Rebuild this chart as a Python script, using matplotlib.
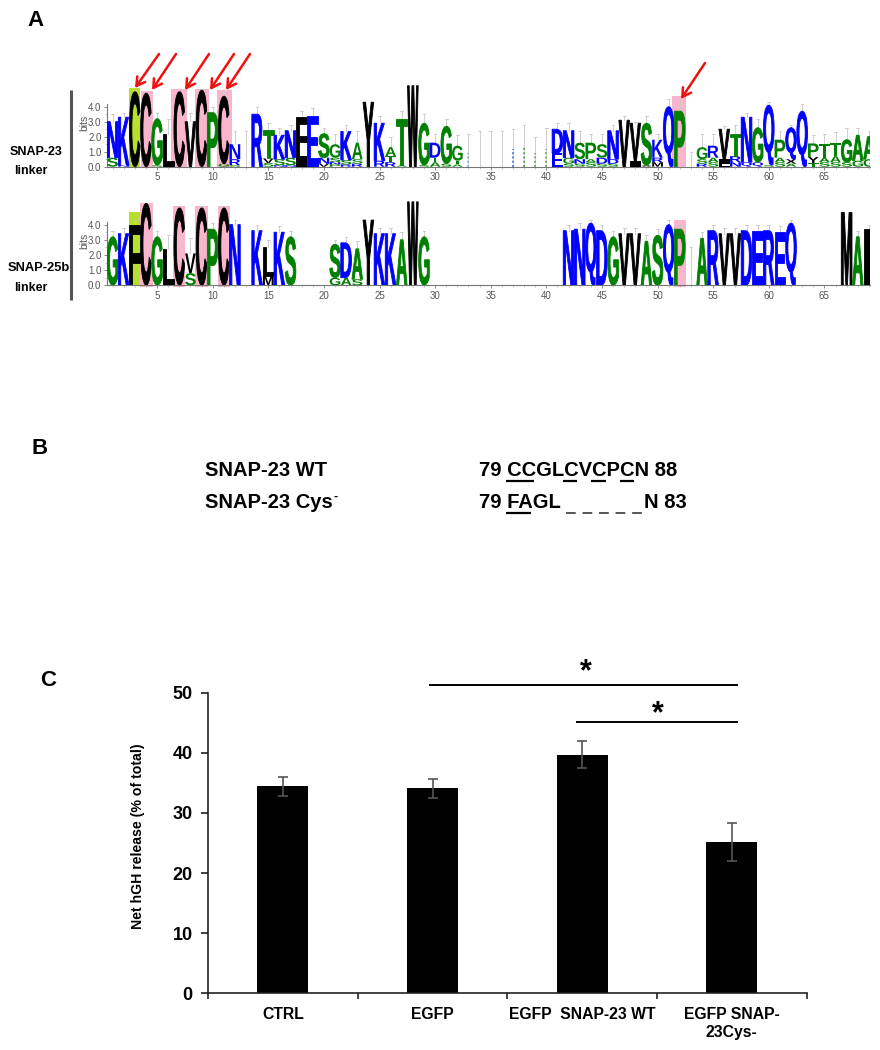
import matplotlib
matplotlib.use("Agg")
import matplotlib.pyplot as plt
from matplotlib.font_manager import FontProperties
from matplotlib.patches import PathPatch, Rectangle
from matplotlib.path import Path
from matplotlib.textpath import TextPath
from matplotlib.transforms import Affine2D

plt.rcParams["font.family"] = ["Liberation Sans", "DejaVu Sans"]

W, H = 880, 1050

# panel A, logo stacks listed bottom to top, one entry per position
logo1_letters = ["SN", "NK", "C", "C", "SG", "L", "C", "V", "C", "P",
                 "GC", "SRN", "", "R", "SVT", "NSK", "NSN", "IF", "E", "VNS",
                 "PNSG", "RSK", "RSA", "Y", "RK", "RTA", "AT", "W", "SG", "ATD",
                 "SG", "ATG", "", "", "", "", "", "", "", "",
                 "ED", "SGN", "SNS", "SAP", "SDS", "SDN", "V", "IV", "XS", "MRK",
                 "Q", "P", "", "RSG", "SAR", "LIV", "NRT", "QN", "QG", "SQ",
                 "SAP", "AXQ", "Q", "TYP", "SAT", "SAT", "SG", "GA", "GA"]
logo1_heights = [[.6, 2.4], [.1, 3.2], [5.0], [4.9], [.1, 3.1], [2.2], [5.0], [3.0], [5.1], [3.6],
                 [.2, 4.5], [.1, .4, 1.0], [], [3.5], [.25, .3, 1.9], [.1, .4, 1.6], [.1, .5, 1.8], [.7, 2.6], [3.4], [.2, .4, 1.6],
                 [.15, .15, .3, .9], [.15, .3, 1.9], [.2, .3, 1.1], [4.3], [.4, 2.5], [.3, .4, .6], [.1, 3.1], [5.4], [.1, 2.8], [.3, .3, 1.0],
                 [.2, 2.5], [.15, .25, 1.0], [], [], [], [], [], [], [], [],
                 [.9, 1.6], [.2, .4, 1.8], [.2, .3, 1.1], [.3, .2, 1.1], [.2, .4, .9], [.2, .3, 1.9], [3.1], [.4, 2.5], [.1, 2.8], [.3, .3, 1.2],
                 [4.0], [3.7], [], [.2, .3, .8], [.3, .3, .8], [.2, .3, 2.0], [.3, .4, 1.5], [.3, 3.0], [.3, 2.3], [.1, 4.0],
                 [.3, .3, 1.2], [.2, .3, 2.1], [3.7], [.25, .4, .9], [.3, .3, .9], [.3, .4, .9], [.3, 1.5], [.4, 1.7], [.5, 1.5]]
logo1_err = [3.5, 3.6, 5.1, 5.0, 3.6, 3.2, 5.1, 3.6, 5.2, 4.0,
             4.9, 2.4, 2.4, 4.0, 2.9, 2.6, 2.8, 3.7, 3.9, 2.6,
             2.2, 2.8, 2.4, 4.3, 3.4, 2.0, 3.7, 5.4, 3.5, 2.2,
             3.2, 2.1, 2.2, 2.4, 2.4, 2.4, 2.5, 2.8, 2.0, 2.6,
             2.9, 2.9, 2.4, 2.2, 2.2, 2.8, 3.4, 3.0, 3.4, 2.2,
             4.5, 4.4, 1.0, 2.2, 2.2, 2.7, 2.8, 3.6, 3.2, 4.3,
             2.4, 2.8, 4.2, 2.1, 2.2, 2.3, 2.6, 2.6, 2.4]
logo1_faint_pos = [33, 37, 38, 39, 40]
logo1_faint_top = [0.9, 1.2, 1.3, 0.9, 1.2]
logo1_faint_col = ["#79a8d8", "#3060e0", "#3f9a3f", "#5aa05a", "#5aa05a"]
logo1_green = [3]
logo1_green_top = [5.25]
logo1_pink = [4.09, 6.98, 9.05, 11.07, 51.95]
logo1_pink_top = [5.05, 5.15, 5.2, 5.1, 4.7]
logo1_pink_w = [1.1, 1.45, 1.25, 1.35, 1.3]

logo2_letters = ["G", "K", "F", "C", "G", "L", "C", "SV", "C", "P",
                 "C", "N", "", "K", "ML", "K", "S", "", "", "",
                 "GS", "AD", "SA", "Y", "K", "K", "A", "W", "G", "",
                 "", "", "", "", "", "", "", "", "", "",
                 "", "N", "N", "Q", "D", "G", "V", "V", "A", "S",
                 "Q", "P", "", "A", "R", "V", "V", "D", "E", "R",
                 "E", "Q", "", "", "", "", "M", "A", "I"]
logo2_heights = [[3.2], [3.4], [4.0], [5.4], [3.2], [2.4], [5.1], [.8, 1.3], [5.1], [3.7],
                 [5.1], [4.0], [], [3.6], [.6, 1.9], [3.5], [3.2], [], [], [],
                 [.5, 2.2], [.5, 2.3], [.4, 2.0], [4.3], [3.4], [3.4], [3.0], [5.5], [3.2], [],
                 [], [], [], [], [], [], [], [], [], [],
                 [], [3.6], [3.7], [4.1], [3.6], [3.2], [3.4], [3.4], [2.9], [3.3],
                 [4.0], [3.7], [], [3.1], [3.6], [3.4], [3.4], [3.6], [3.6], [3.6],
                 [3.5], [4.1], [], [], [], [], [4.8], [3.2], [3.7]]
logo2_err = [3.6, 3.8, 4.3, 5.4, 3.6, 3.3, 5.2, 3.1, 5.2, 4.1,
             5.2, 4.3, 0, 4.0, 3.0, 3.9, 3.6, 0, 0, 0,
             3.0, 3.2, 2.9, 4.3, 3.8, 3.8, 3.5, 5.5, 3.6, 0,
             0, 0, 0, 0, 0, 0, 0, 0, 0, 0,
             0, 4.0, 4.1, 4.3, 4.0, 3.6, 3.8, 3.8, 3.3, 3.7,
             4.3, 4.0, 2.5, 3.5, 4.0, 3.8, 3.8, 4.0, 4.0, 4.0,
             3.9, 4.3, 0, 0, 0, 0, 4.8, 3.6, 4.0]
logo2_green = [3]
logo2_green_top = [4.8]
logo2_pink = [4.05, 7.0, 9.0, 11.05, 52.0]
logo2_pink_top = [5.45, 5.25, 5.2, 5.2, 4.3]
logo2_pink_w = [1.1, 1.1, 1.1, 1.1, 1.05]

# panel C
categories = ["CTRL", "EGFP", "EGFP  SNAP-23 WT", "EGFP SNAP-\n23Cys-"]
release = [34.4, 34.1, 39.7, 25.2]
release_err = [1.6, 1.6, 2.2, 3.2]
yticks = [0, 10, 20, 30, 40, 50]

LETTER_COLORS = {"N": "#0000ff", "K": "#0000ff", "R": "#0000ff", "D": "#0000ff",
                 "E": "#0000ff", "Q": "#0000ff",
                 "S": "#008000", "G": "#008000", "T": "#008000", "A": "#008000", "P": "#008000"}
FP = FontProperties(family="Liberation Sans", weight="bold")


def axes_px(fig, left, top, right, bottom):
    return fig.add_axes([left / W, 1 - bottom / H, (right - left) / W, (bottom - top) / H])


def draw_letter(ax, ch, pos, y0, h):
    tp = TextPath((0, 0), ch, size=1, prop=FP)
    box = tp.get_extents()
    tr = (Affine2D().translate(-box.x0, -box.y0)
          .scale(0.96 / box.width, h / box.height)
          .translate(pos - 0.48, y0))
    path = Path(tp.vertices, tp.codes).transformed(tr)
    color = LETTER_COLORS.get(ch, "black")
    # thin outline fattens the tall strokes, the source logo is heavy and soft
    lw = 0.6 if h >= 1.5 else 0
    ax.add_patch(PathPatch(path, fc=color, ec=color, lw=lw, transform=ax.transData, zorder=3))


def draw_logo(ax, letters, heights, err, green, green_top, pink, pink_top, pink_w):
    for p, t in zip(green, green_top):
        ax.add_patch(Rectangle((p - 0.5, 0), 1, t, fc="#b7e02e", lw=0, zorder=1))
    for p, t, w in zip(pink, pink_top, pink_w):
        ax.add_patch(Rectangle((p - w / 2, -0.1), w, t + 0.1, fc="#f8b5cc", lw=0,
                               zorder=1, clip_on=False))
    for i, (chars, hs) in enumerate(zip(letters, heights)):
        pos = i + 1
        y = 0
        for ch, h in zip(chars, hs):
            draw_letter(ax, ch, pos, y, h)
            y += h
        if err[i] > y:
            ax.plot([pos, pos], [y, err[i]], color="#c8c8c8", lw=0.6, zorder=2)
            ax.plot([pos - 0.12, pos + 0.12], [err[i], err[i]], color="#c8c8c8", lw=0.6, zorder=2)
    ax.set_xlim(0.5, 69.1)
    ax.set_ylim(0, 5.8)
    ax.patch.set_visible(False)
    for s in ["top", "right"]:
        ax.spines[s].set_visible(False)
    ax.spines["left"].set_bounds(0, 4.2)
    for s in ["left", "bottom"]:
        ax.spines[s].set_color("#777777")
        ax.spines[s].set_linewidth(0.8)
    ax.set_xticks(range(5, 70, 5))
    ax.set_xticks(range(1, 70), minor=True)
    ax.set_yticks([0, 1, 2, 3, 4])
    ax.set_yticklabels(["0.0", "1.0", "2.0", "3.0", "4.0"])
    ax.set_yticks([0.5, 1.5, 2.5, 3.5], minor=True)
    ax.tick_params(axis="both", which="major", labelsize=7, labelcolor="#555555",
                   color="#777777", length=2.5, width=0.6, pad=1.5)
    ax.tick_params(axis="both", which="minor", color="#999999", length=1.5, width=0.4)
    ax.set_ylabel("bits", fontsize=7.5, color="#555555", labelpad=-1)


fig = plt.figure(figsize=(W / 100, H / 100), dpi=100)

ax1 = axes_px(fig, 107, 79.7, 870, 166.7)
draw_logo(ax1, logo1_letters, logo1_heights, logo1_err,
          logo1_green, logo1_green_top, logo1_pink, logo1_pink_top, logo1_pink_w)
ax1.vlines(logo1_faint_pos, 0, logo1_faint_top, colors=logo1_faint_col, lw=1.4,
           linestyles=(0, (1, 1.2)), alpha=0.8, zorder=3)

ax2 = axes_px(fig, 107, 197.3, 870, 285.3)
draw_logo(ax2, logo2_letters, logo2_heights, logo2_err,
          logo2_green, logo2_green_top, logo2_pink, logo2_pink_top, logo2_pink_w)

# panel C bars
ax3 = axes_px(fig, 208, 692.7, 806.7, 993.3)
x = list(range(len(categories)))
ax3.bar(x, release, width=0.34, color="black", zorder=2)
ax3.errorbar(x, release, yerr=release_err, fmt="none", ecolor="#555555", elinewidth=1.2,
             capsize=3.3, capthick=1.2, zorder=3)
ax3.set_xlim(-0.5, 3.5)
ax3.set_ylim(0, 50)
ax3.set_yticks(yticks)
ax3.set_xticks(x)
ax3.set_xticklabels(categories, fontsize=11.3, fontweight="bold", linespacing=1.25)
ax3.set_xticks([-0.5, 0.5, 1.5, 2.5, 3.5], minor=True)
ax3.tick_params(axis="x", which="major", length=0, pad=10)
ax3.tick_params(axis="x", which="minor", length=4, width=1.2, color="#222222")
ax3.tick_params(axis="y", labelsize=13, length=5, width=1.2, color="#222222", pad=6)
for lab in ax3.get_yticklabels():
    lab.set_fontweight("bold")
for s in ["top", "right"]:
    ax3.spines[s].set_visible(False)
for s in ["left", "bottom"]:
    ax3.spines[s].set_linewidth(1.2)
    ax3.spines[s].set_color("#222222")

# everything placed by pixel goes on a full figure overlay
ov = fig.add_axes([0, 0, 1, 1], zorder=5)
ov.set_xlim(0, W)
ov.set_ylim(H, 0)
ov.axis("off")

for label, lx, ly in [("A", 36, 20), ("B", 40, 449), ("C", 48, 681)]:
    ov.text(lx, ly, label, fontsize=16, fontweight="bold", ha="center", va="center")

ov.plot([71, 71], [90, 300], color="#555555", lw=2.2, solid_capstyle="butt")
ov.text(36, 152, "SNAP-23", fontsize=9, fontweight="bold", ha="center", va="center")
ov.text(31, 171, "linker", fontsize=9, fontweight="bold", ha="center", va="center")
ov.text(39, 268, "SNAP-25b", fontsize=9.3, fontweight="bold", ha="center", va="center")
ov.text(31, 288, "linker", fontsize=9, fontweight="bold", ha="center", va="center")

for x0, y0, x1, y1 in [(159, 54, 135, 88), (176, 54, 152, 90), (209, 54, 185, 90),
                       (234, 54, 210, 90), (250, 54, 226, 90), (705, 63, 681, 99)]:
    ov.annotate("", xy=(x1, y1), xytext=(x0, y0),
                arrowprops=dict(arrowstyle="->,head_length=0.6,head_width=0.35",
                                color="#f01010", lw=1.8, shrinkA=0, shrinkB=0))

# panel B text
ov.text(205, 471, "SNAP-23 WT", fontsize=14.5, fontweight="bold", va="center")
ov.text(205, 503, "SNAP-23 Cys", fontsize=14.5, fontweight="bold", va="center")
ov.text(333, 497, "-", fontsize=9, fontweight="bold", va="center")
ov.text(479, 471, "79 CCGLCVCPCN 88", fontsize=14.5, fontweight="bold", va="center")
ov.text(479, 503, "79 FAGL", fontsize=14.5, fontweight="bold", va="center")
ov.text(644, 503, "N 83", fontsize=14.5, fontweight="bold", va="center")
for x0, x1 in [(506, 534), (563, 577), (591, 606), (620, 634)]:
    ov.plot([x0, x1], [481, 481], color="black", lw=1.6, solid_capstyle="butt")
ov.plot([506, 531], [513, 513], color="black", lw=1.6, solid_capstyle="butt")
ov.plot([566, 642], [513, 513], color="#555555", lw=1.4, linestyle=(0, (5, 3.5)))

# panel C annotations
ov.text(138, 836, "Net hGH release (% of total)", fontsize=10.2, fontweight="bold",
        rotation=90, ha="center", va="center")
ov.plot([430, 737], [685, 685], color="black", lw=1.4)
ov.plot([577, 737], [721.7, 721.7], color="black", lw=1.4)
ov.text(586, 672, "*", fontsize=22, fontweight="bold", ha="center", va="center")
ov.text(658, 714, "*", fontsize=22, fontweight="bold", ha="center", va="center")

fig.savefig("out.png", dpi=100)
